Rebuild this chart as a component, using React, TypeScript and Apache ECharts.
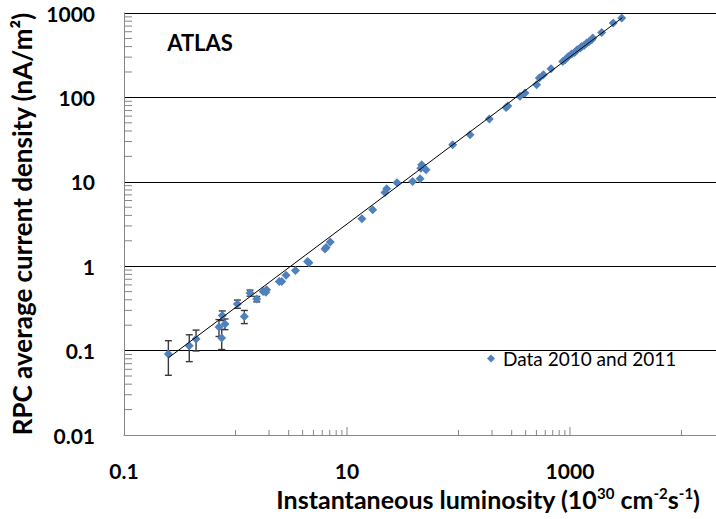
import React, { useEffect, useRef } from "react";
import * as echarts from "echarts";

const SERIES_NAME = "Data 2010 and 2011";

// measured points: [luminosity (1e30 cm^-2 s^-1), current density (nA/m^2)]
const dataPoints: [number, number][] = [
  [0.25, 0.091], [0.385, 0.114], [0.443, 0.137], [0.711, 0.19], [0.761, 0.261],
  [0.752, 0.141], [0.805, 0.207], [1.04, 0.357], [1.2, 0.254], [1.35, 0.481],
  [1.55, 0.408], [1.77, 0.502], [1.9, 0.527], [1.87, 0.49], [2.47, 0.661],
  [2.6, 0.66], [2.84, 0.78], [3.45, 0.89], [4.43, 1.14], [4.55, 1.1],
  [6.35, 1.6], [6.5, 1.66], [7.08, 1.94], [13.6, 3.66], [17, 4.67],
  [21.9, 7.49], [22.7, 8.28], [28.1, 9.76], [38.8, 10.1], [45.2, 10.9],
  [46.8, 15.9], [46, 14.5], [51.2, 13.9], [88.7, 27.5], [127, 36.1],
  [189, 55.5], [267, 76], [277, 79], [356, 103], [395, 113],
  [502, 141], [531, 170], [577, 186], [676, 219], [861, 267],
  [905, 279], [966, 306], [1034, 327], [1100, 341], [1161, 367],
  [1236, 385], [1273, 402], [1340, 413], [1412, 441], [1480, 457],
  [1565, 483], [1600, 505], [1923, 589], [2444, 761], [2911, 873],
];

// error bars: [luminosity, current density, +/- error]
const errorBars: [number, number, number][] = [
  [0.25, 0.091, 0.04], [0.385, 0.114, 0.04], [0.443, 0.137, 0.038],
  [0.711, 0.19, 0.043], [0.761, 0.261, 0.034], [0.752, 0.141, 0.038],
  [0.805, 0.207, 0.03], [1.04, 0.357, 0.04], [1.2, 0.254, 0.045],
  [1.35, 0.481, 0.04], [1.55, 0.408, 0.03],
];

// power-law trend line endpoints
const trendLine: [number, number][] = [
  [0.25, 0.082],
  [2950, 880],
];

const X_MIN = 0.1;
const X_MAX = 20400; // visible edge of the (cropped) axis
const Y_MIN = 0.01;
const Y_MAX = 1000;

const xLabelValues = [0.1, 10, 1000];
const xTickLabels = ["0.1", "10", "1000"];
const yTickLabels = ["0.01", "0.1", "1", "10", "100", "1000"];

const xMajorTicks = [10, 1000];
const xMinorTicks = [
  1, 2, 3, 4, 5, 6, 7, 8, 9, 10,
  100, 200, 300, 400, 500, 600, 700, 800, 900, 1000,
  10000,
];
const yMinorTicks: number[] = [];
for (const dec of [0.01, 0.1, 1, 10, 100]) {
  for (const m of [2, 3, 4, 5, 6, 7, 8, 9]) yMinorTicks.push(+(dec * m).toPrecision(3));
}

const FONT = 'Lato, "Open Sans", "DejaVu Sans", sans-serif';

export default function App() {
  const ref = useRef<HTMLDivElement>(null);

  useEffect(() => {
    if (!ref.current) return;
    const chart = echarts.init(ref.current, null, { renderer: "svg" });

    const option: any = {
      animation: false,
      backgroundColor: "#ffffff",
      textStyle: { fontFamily: FONT },
      grid: { left: 124, top: 13, right: 0, height: 422, containLabel: false },
      legend: {
        data: [SERIES_NAME],
        left: 482,
        top: 344,
        icon: "diamond",
        itemWidth: 8,
        itemHeight: 8,
        textStyle: { fontSize: 19, fontFamily: FONT, color: "#000", padding: [0, 0, 0, 3] },
      },
      xAxis: {
        type: "log",
        logBase: 10,
        min: X_MIN,
        max: X_MAX,
        axisLine: { show: true, lineStyle: { color: "#868686", width: 1 } },
        axisTick: { show: false },
        splitLine: { show: false },
        axisLabel: {
          margin: 25,
          fontSize: 21,
          fontWeight: "bold",
          color: "#000",
          fontFamily: FONT,
          hideOverlap: false,
          showMaxLabel: false,
          formatter: (v: number) => {
            const i = xLabelValues.findIndex((t) => Math.abs(Math.log10(t) - Math.log10(v)) < 1e-6);
            return i >= 0 ? xTickLabels[i] : "";
          },
        },
      },
      yAxis: {
        type: "log",
        logBase: 10,
        min: Y_MIN,
        max: Y_MAX,
        name: "RPC average current density (nA/m²)",
        nameLocation: "middle",
        nameGap: 81,
        nameRotate: 90,
        nameTextStyle: { fontSize: 26, fontWeight: "bold", color: "#000", fontFamily: FONT },
        axisLine: { show: true, lineStyle: { color: "#868686", width: 1 } },
        axisTick: { show: false },
        splitLine: {
          show: true,
          lineStyle: { color: ["#868686", "#000", "#000", "#000", "#000", "#000"], width: 1 },
        },
        axisLabel: {
          margin: 29,
          fontSize: 21,
          fontWeight: "bold",
          color: "#000",
          fontFamily: FONT,
          formatter: (v: number) => {
            const i = Math.round(Math.log10(v)) + 2;
            return yTickLabels[i] ?? "";
          },
        },
      },
      graphic: [
        {
          type: "text",
          x: 200,
          y: 42,
          style: {
            text: "ATLAS",
            fontSize: 22,
            fontWeight: "bold",
            fontFamily: FONT,
            fill: "#000",
            align: "center",
            verticalAlign: "middle",
            textAlign: "center",
            textVerticalAlign: "middle",
          },
        },
        {
          type: "text",
          x: 488,
          y: 499,
          style: {
            text: "Instantaneous luminosity (10{s|30} cm{s|-2}s{s|-1})",
            fontSize: 25,
            fontWeight: "bold",
            fontFamily: FONT,
            fill: "#000",
            align: "center",
            verticalAlign: "middle",
            textAlign: "center",
            textVerticalAlign: "middle",
            lineHeight: 28,
            rich: {
              s: {
                fontSize: 15,
                fontWeight: "bold",
                fontFamily: FONT,
                fill: "#000",
                verticalAlign: "top",
                lineHeight: 24,
              },
            },
          },
        },
      ],
      series: [
        {
          type: "custom",
          name: "xticks",
          silent: true,
          clip: false,
          data: xMinorTicks.map((v) => [v, Y_MIN]),
          encode: { x: 0, y: 1 },
          renderItem: (params: any, api: any) => {
            const v = api.value(0);
            const p = api.coord([v, api.value(1)]);
            const major = xMajorTicks.some((t) => Math.abs(t - v) < 1e-9);
            const len = major ? 8 : 5;
            return {
              type: "line",
              shape: { x1: p[0], y1: p[1], x2: p[0], y2: p[1] - len },
              style: { stroke: "#868686", lineWidth: 1 },
            };
          },
          z: 3,
        },
        {
          type: "custom",
          name: "yticks",
          silent: true,
          clip: false,
          data: yMinorTicks.map((v) => [X_MIN, v]),
          encode: { x: 0, y: 1 },
          renderItem: (params: any, api: any) => {
            const p = api.coord([api.value(0), api.value(1)]);
            return {
              type: "line",
              shape: { x1: p[0], y1: p[1], x2: p[0] + 8, y2: p[1] },
              style: { stroke: "#868686", lineWidth: 1 },
            };
          },
          z: 3,
        },
        {
          type: "custom",
          name: "errors",
          silent: true,
          data: errorBars,
          encode: { x: 0, y: 1 },
          renderItem: (params: any, api: any) => {
            const x = api.value(0);
            const y = api.value(1);
            const e = api.value(2);
            const top = api.coord([x, y + e]);
            const bot = api.coord([x, y - e]);
            const hw = 3.5;
            const st = { stroke: "#3a3a3a", lineWidth: 1.4 };
            return {
              type: "group",
              children: [
                { type: "line", shape: { x1: top[0], y1: top[1], x2: bot[0], y2: bot[1] }, style: st },
                { type: "line", shape: { x1: top[0] - hw, y1: top[1], x2: top[0] + hw, y2: top[1] }, style: st },
                { type: "line", shape: { x1: bot[0] - hw, y1: bot[1], x2: bot[0] + hw, y2: bot[1] }, style: st },
              ],
            };
          },
          z: 4,
        },
        {
          type: "scatter",
          name: SERIES_NAME,
          data: dataPoints,
          symbol: "diamond",
          symbolSize: 9,
          itemStyle: { color: "#4F81BD", opacity: 1 },
          z: 5,
        },
        {
          type: "line",
          name: "trend",
          data: trendLine,
          showSymbol: false,
          symbol: "none",
          lineStyle: { color: "#000", width: 1 },
          silent: true,
          z: 6,
        },
      ],
    };

    chart.setOption(option);
    return () => chart.dispose();
  }, []);

  return (
    <div
      ref={ref}
      style={{
        position: "fixed",
        left: 0,
        top: 0,
        width: 716,
        height: 519,
        overflow: "hidden",
        background: "#fff",
      }}
    />
  );
}
